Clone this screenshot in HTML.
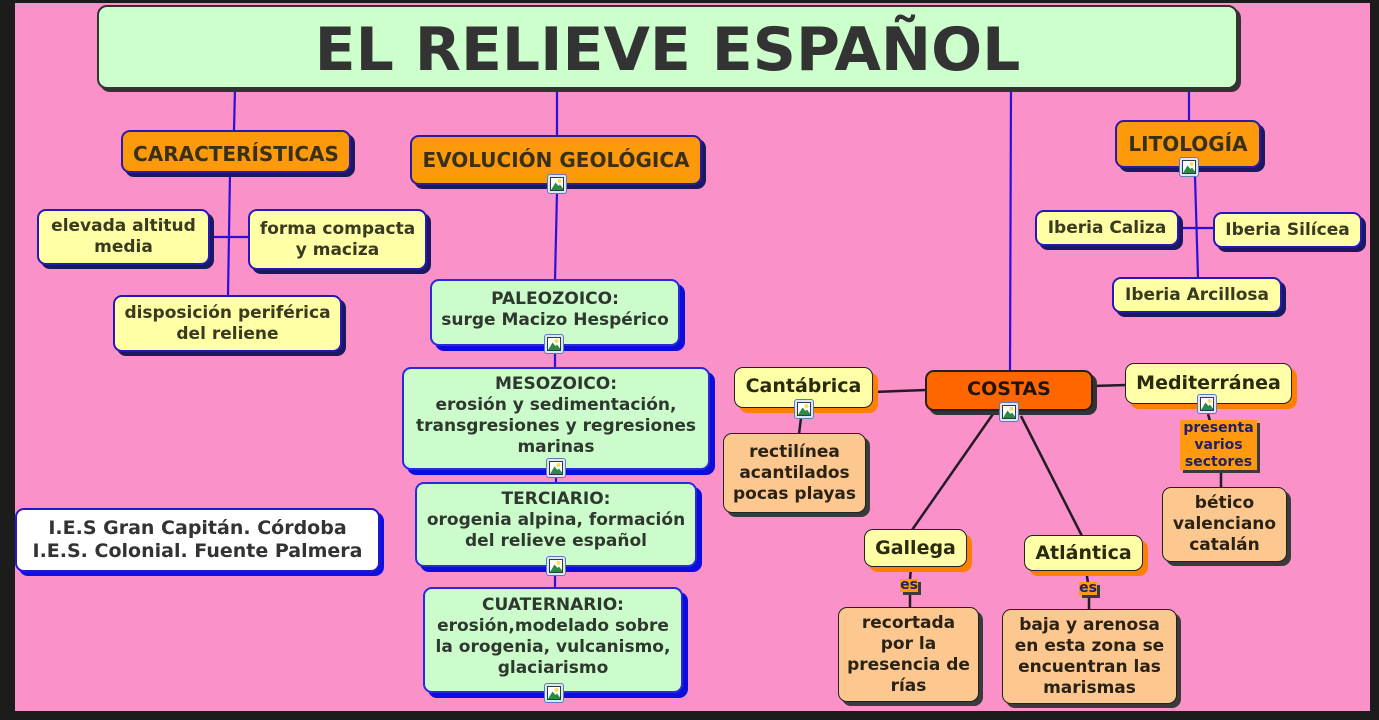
<!DOCTYPE html>
<html><head><meta charset="utf-8">
<style>
*{box-sizing:border-box;margin:0;padding:0}
html,body{width:1379px;height:720px;overflow:hidden;background:#1c1c1c}
#pk{position:absolute;left:15px;top:3px;width:1355px;height:708px;background:#fa91c8}
.b{position:absolute;display:flex;align-items:center;justify-content:center;text-align:center;font-family:"DejaVu Sans","Liberation Sans",sans-serif;font-weight:bold;white-space:nowrap;line-height:1}
.t{font-size:60px;color:#333;background:#ccffcc;border:2px solid #333;border-radius:10px;box-shadow:3px 3px 0 #333;padding-top:6px}
.o1{background:#fd9a0c;border:2px solid #2c1aa0;border-radius:9px;box-shadow:4px 4px 0 #1c1860;color:#3a3018;font-size:20px}
.y1{background:#ffffa6;border:2px solid #2418b8;border-radius:9px;box-shadow:4px 4px 0 #1c1860;color:#3a3a20;font-size:17px;line-height:21px}
.g{background:#ccfccc;border:2px solid #2a2ad8;border-radius:9px;box-shadow:5px 5px 0 #0c0cdc;color:#2e382e;font-size:17px;line-height:21px}
.w{background:#fff;border:2px solid #2418c8;border-radius:9px;box-shadow:4px 4px 0 #1010e0;color:#333;font-size:19px;line-height:23px}
.y2{background:#ffffa8;border:1.5px solid #222;border-radius:9px;box-shadow:5px 5px 0 #ff7f00;color:#2a2a0c;font-size:19px}
.p{background:#fdc890;border:1.5px solid #222;border-radius:9px;box-shadow:4px 4px 0 #3a3a3a;color:#2a2214;font-size:17px;line-height:21px}
.c{background:#ff6600;border:2px solid #222;border-radius:9px;box-shadow:4px 4px 0 #333;color:#1e1408;font-size:19px}
.l{background:#ff9a10;box-shadow:3px 3px 0 #3a3a3a;color:#22206a;font-size:14px;line-height:17px}
.ic{position:absolute;width:20px;height:20px}
svg.lines{position:absolute;left:0;top:0}
</style></head><body>
<div id="pk"></div>
<svg class="lines" width="1379" height="720">
<g stroke="#2a10d8" stroke-width="2.2" fill="none">
<line x1="235" y1="88" x2="234" y2="130"/>
<line x1="230" y1="173" x2="228" y2="295"/>
<line x1="209" y1="237" x2="249" y2="237"/>
<line x1="557" y1="88" x2="557" y2="136"/>
<line x1="557" y1="192" x2="555" y2="280"/>
<line x1="555" y1="352" x2="555" y2="368"/>
<line x1="556" y1="476" x2="556" y2="483"/>
<line x1="555" y1="574" x2="555" y2="588"/>
<line x1="1189" y1="88" x2="1189" y2="121"/>
<line x1="1195" y1="176" x2="1198" y2="278"/>
<line x1="1178" y1="228" x2="1214" y2="228"/>
<line x1="1011" y1="88" x2="1010" y2="371"/>
</g>
<g stroke="#241a28" stroke-width="2.5" fill="none">
<line x1="873" y1="392" x2="926" y2="390"/>
<line x1="1093" y1="386" x2="1126" y2="385"/>
<line x1="801" y1="418" x2="799" y2="434"/>
<line x1="993" y1="414" x2="912" y2="530"/>
<line x1="1021" y1="416" x2="1082" y2="536"/>
<line x1="911" y1="567" x2="910" y2="580"/>
<line x1="910" y1="592" x2="910" y2="608"/>
<line x1="1086" y1="570" x2="1088" y2="583"/>
<line x1="1089" y1="595" x2="1089" y2="610"/>
<line x1="1208" y1="414" x2="1210" y2="421"/>
<line x1="1221" y1="470" x2="1221" y2="488"/>
</g>
</svg>

<div class="b t" style="left:97px;top:5px;width:1141px;height:84px">EL RELIEVE ESPAÑOL</div>

<div class="b o1" style="left:121px;top:130px;width:230px;height:43px;padding-top:5px">CARACTERÍSTICAS</div>
<div class="b o1" style="left:410px;top:135px;width:292px;height:50px">EVOLUCIÓN GEOLÓGICA</div>
<div class="b o1" style="left:1115px;top:120px;width:146px;height:48px">LITOLOGÍA</div>

<div class="b y1" style="left:37px;top:209px;width:173px;height:56px">elevada altitud<br>media</div>
<div class="b y1" style="left:248px;top:209px;width:179px;height:61px">forma compacta<br>y maciza</div>
<div class="b y1" style="left:113px;top:295px;width:229px;height:57px">disposición periférica<br>del reliene</div>

<div class="b g" style="left:430px;top:279px;width:250px;height:67px;padding-bottom:6px">PALEOZOICO:<br>surge Macizo Hespérico</div>
<div class="b g" style="left:402px;top:367px;width:308px;height:103px;padding-bottom:5px">MESOZOICO:<br>erosión y sedimentación,<br>transgresiones y regresiones<br>marinas</div>
<div class="b g" style="left:415px;top:482px;width:282px;height:85px;padding-bottom:8px">TERCIARIO:<br>orogenia alpina, formación<br>del relieve español</div>
<div class="b g" style="left:423px;top:587px;width:260px;height:106px;padding-bottom:6px">CUATERNARIO:<br>erosión,modelado sobre<br>la orogenia, vulcanismo,<br>glaciarismo</div>

<div class="b w" style="left:15px;top:508px;width:365px;height:64px">I.E.S Gran Capitán. Córdoba<br>I.E.S. Colonial. Fuente Palmera</div>

<div class="b y1" style="left:1035px;top:210px;width:144px;height:36px">Iberia Caliza</div>
<div class="b y1" style="left:1213px;top:212px;width:149px;height:36px">Iberia Silícea</div>
<div class="b y1" style="left:1112px;top:277px;width:170px;height:36px">Iberia Arcillosa</div>

<div class="b c" style="left:925px;top:370px;width:168px;height:41px;padding-bottom:3px">COSTAS</div>
<div class="b y2" style="left:734px;top:367px;width:139px;height:41px;padding-bottom:3px">Cantábrica</div>
<div class="b y2" style="left:1125px;top:363px;width:167px;height:41px">Mediterránea</div>
<div class="b p" style="left:723px;top:433px;width:143px;height:80px">rectilínea<br>acantilados<br>pocas playas</div>
<div class="b l" style="left:1180px;top:420px;width:77px;height:50px">presenta<br>varios<br>sectores</div>
<div class="b p" style="left:1162px;top:487px;width:125px;height:75px">bético<br>valenciano<br>catalán</div>
<div class="b y2" style="left:864px;top:529px;width:103px;height:38px">Gallega</div>
<div class="b y2" style="left:1024px;top:535px;width:119px;height:36px">Atlántica</div>
<div class="b l" style="left:900px;top:579px;width:18px;height:13px">es</div>
<div class="b l" style="left:1079px;top:582px;width:18px;height:13px">es</div>
<div class="b p" style="left:838px;top:607px;width:141px;height:95px">recortada<br>por la<br>presencia de<br>rías</div>
<div class="b p" style="left:1002px;top:609px;width:175px;height:95px">baja y arenosa<br>en esta zona se<br>encuentran las<br>marismas</div>

<svg width="0" height="0" style="position:absolute">
<defs>
<symbol id="im" viewBox="0 0 20 20">
<rect x="0.5" y="0.5" width="19" height="19" rx="2.5" fill="#dce8fa" stroke="#5a7ab8"/>
<rect x="3.5" y="3.5" width="13" height="13" fill="#fff" stroke="#2a3a4a" stroke-width="1"/>
<circle cx="12.5" cy="7" r="2" fill="#f2df5a"/>
<path d="M4 16 L8.5 8.5 L11.5 12 L13 10.5 L16 14.5 L16 16 Z" fill="#2a8a44"/>
</symbol>
</defs>
</svg>
<svg class="ic" style="left:547px;top:174px"><use href="#im"/></svg>
<svg class="ic" style="left:1179px;top:157px"><use href="#im"/></svg>
<svg class="ic" style="left:544px;top:334px"><use href="#im"/></svg>
<svg class="ic" style="left:546px;top:458px"><use href="#im"/></svg>
<svg class="ic" style="left:546px;top:556px"><use href="#im"/></svg>
<svg class="ic" style="left:544px;top:683px"><use href="#im"/></svg>
<svg class="ic" style="left:794px;top:399px"><use href="#im"/></svg>
<svg class="ic" style="left:999px;top:402px"><use href="#im"/></svg>
<svg class="ic" style="left:1197px;top:394px"><use href="#im"/></svg>
</body></html>
